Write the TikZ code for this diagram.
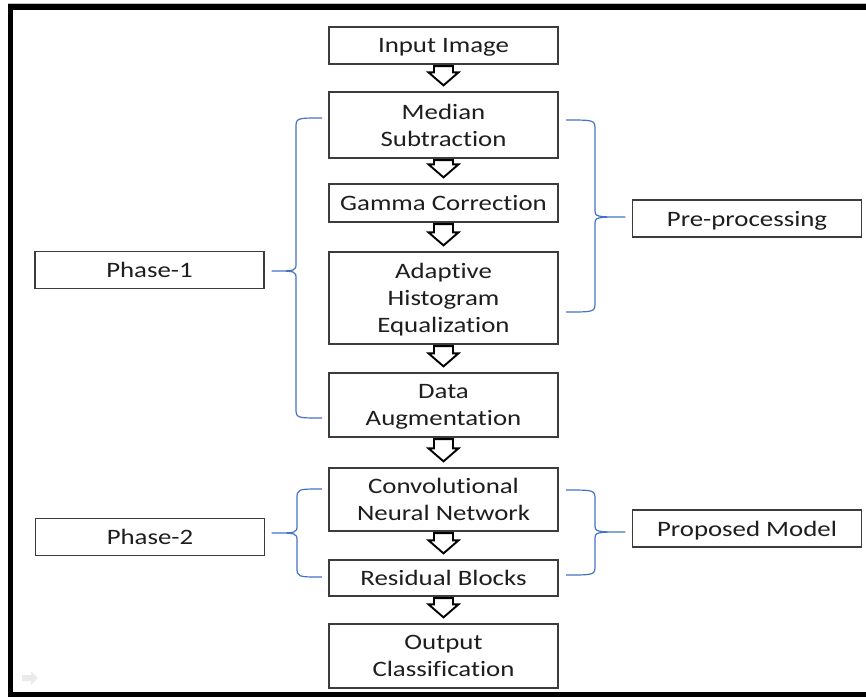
\documentclass[tikz,border=0pt]{standalone}
\usepackage{fontspec}
\setmainfont{Carlito}[FakeStretch=1.22,Ligatures={NoCommon}]
\usepackage{xcolor}
\definecolor{brblue}{RGB}{68,114,196}
\definecolor{boxline}{RGB}{60,60,60}
\definecolor{txtgray}{RGB}{30,30,30}
\usetikzlibrary{calc}
\tikzset{
  stage/.style={draw=boxline,line width=1.3pt,fill=white,minimum width=229pt,inner sep=0pt,align=center,text depth=0pt,text=txtgray,font=\fontsize{22}{27}\selectfont},
  side/.style={stage,minimum width=229pt,minimum height=37pt},
  curly/.style={draw=brblue,line width=1.2pt,line join=round},
  hollow/.style={draw=black,line width=1.9pt,fill=white,line join=miter}
}
\newcommand{\blockdown}[2]{\draw[hollow] let \p1=([yshift=-1.5pt]#1.south), \p2=([yshift=6pt]#2.north) in (\x1-9.5pt,\y1) -- (\x1+9.5pt,\y1) -- (\x1+9.5pt,\y2+13pt) -- (\x1+15pt,\y2+13pt) -- (\x1,\y2) -- (\x1-15pt,\y2+13pt) -- (\x1-9.5pt,\y2+13pt) -- cycle;}
\newcommand{\bracket}[6]{\draw[curly] (#1,#4) .. controls (#2,#4) .. (#2,#4+10) -- (#2,#5-8) .. controls (#2,#5) .. (#3,#5) .. controls (#2,#5) .. (#2,#5+8) -- (#2,#6-10) .. controls (#2,#6) .. (#1,#6);}

\begin{document}
\begin{tikzpicture}[x=1pt,y=-1pt]
\useasboundingbox (0,0) rectangle (866,697);
% ---- ramka ----
\fill[black!25] (8,3) rectangle (866,4);
\fill[black] (8,4) rectangle (866,10);
\fill[black] (8,4) rectangle (13,697);
\fill[black] (8,692) rectangle (866,697);
\fill[black!8] (22,675) -- (31,675) -- (31,671) -- (38,678) -- (31,685) -- (31,681) -- (22,681) -- cycle;
% ---- glowny ciag ----
\node[stage,minimum height=37pt] (in) at (443.5,45.5) {Input Image};
\node[stage,minimum height=66pt] (med) at (443.5,125) {Median\\Subtraction};
\node[stage,minimum height=38pt] (gam) at (443.5,203) {Gamma Correction};
\node[stage,minimum height=92pt] (ahe) at (443.5,298) {Adaptive\\Histogram\\Equalization};
\node[stage,minimum height=64pt] (aug) at (443.5,405) {Data\\Augmentation};
\node[stage,minimum height=63pt] (cnn) at (443.5,499.5) {Convolutional\\Neural Network};
\node[stage,minimum height=36pt] (res) at (443.5,578) {Residual Blocks};
\node[stage,minimum height=64pt] (out) at (443.5,656) {Output\\Classification};
\foreach \a/\b in {in/med,med/gam,gam/ahe,ahe/aug,aug/cnn,cnn/res,res/out}{ \blockdown{\a}{\b} }
% ---- opisy z boku ----
\node[side] (ph1) at (149.5,270) {Phase-1};
\node[side] (ph2) at (150,537) {Phase-2};
\node[side] (pre) at (747,218.5) {Pre-processing};
\node[side] (prop) at (747,528.5) {Proposed Model};
% klamry
\bracket{322}{296}{272}{118}{271}{418}
\bracket{322}{297}{272}{489}{533}{577}
\bracket{566}{595}{625}{120}{217}{312}
\bracket{566}{595}{625}{490}{532}{575}
\end{tikzpicture}
\end{document}
